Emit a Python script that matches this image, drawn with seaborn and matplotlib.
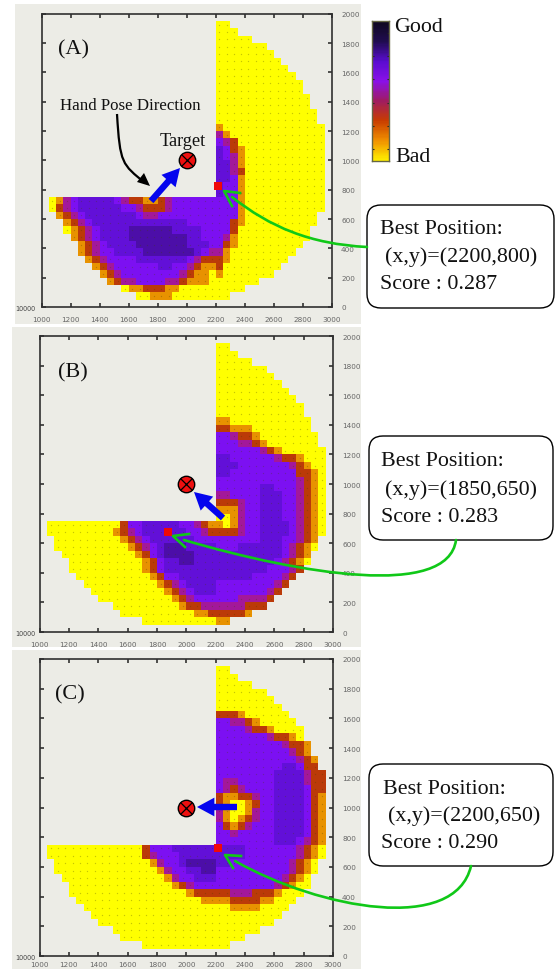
import numpy as np
import pandas as pd
import matplotlib
matplotlib.use("Agg")
import matplotlib.pyplot as plt
import seaborn as sns
from matplotlib.colors import ListedColormap, LinearSegmentedColormap
from matplotlib.patches import FancyBboxPatch, FancyArrowPatch, PathPatch, Rectangle, Polygon
from matplotlib.path import Path

W, H = 556, 970
SERIF = "Liberation Serif"

# score levels, 0 = bad (yellow) ... 6 = good (dark), . = no data
# one string per 50 unit row, top row first, columns start at x=1000 (short rows sit on the right)
RIM_ROWS = [
    "",
    "00.. .... .... ....",
    "000. .... .... ....",
    "0000 0... .... ....",
    "0000 000. .... ....",
    "0000 0000 .... ....",
    "0000 0000 0... ....",
]
PANEL_A = [
    "0000 0000 00.. ....",
    "0000 0000 000. ....",
    "0000 0000 0000 ....",
    "0000 0000 0000 ....",
    "0000 0000 0000 0...",
    "0000 0000 0000 0...",
    "0000 0000 0000 00..",
    "0000 0000 0000 00..",
    "1000 0000 0000 000.",
    "3100 0000 0000 000.",
    "4320 0000 0000 000.",
    "5421 0000 0000 000.",
    "5431 0000 0000 000.",
    "5531 0000 0000 000.",
    "5532 0000 0000 000.",
    "5541 0000 0000 000.",
    "5441 0000 0000 000.",
    "5441 0000 0000 000.",
    ".01345 555543 221123 444444 4441 0000 0000 000.",
    ".02345 555554 432223 444444 4441 0000 0000 000.",
    "..1234 555555 543344 444444 4441 0000 0000 00..",
    "...123 455555 555555 554444 4421 0000 0000 00..",
    "...012 345555 666666 555544 4420 0000 0000 0...",
    "....12 345555 666666 665544 4310 0000 0000 0...",
    ".....1 234555 566666 665554 4210 0000 0000 ....",
    ".....1 234455 556666 666543 3100 0000 000. ....",
    "...... 123444 455555 554322 2100 0000 00.. ....",
    "...... .12344 444455 443211 2000 0000 0... ....",
    "...... ..1234 444444 432110 1000 0000 .... ....",
    "...... ...123 344443 321110 0000 00.. .... ....",
    "...... .....0 112221 100000 0000 .... .... ....",
    "...... ...... .00111 000000 00.. .... .... ....",
    "",
]
PANEL_B = [
    "0000 0000 00.. ....",
    "0000 0000 000. ....",
    "0000 0000 0000 ....",
    "0000 0000 0000 ....",
    "1100 0000 0000 0...",
    "2211 1000 0000 0...",
    "4432 2100 0000 00..",
    "4443 3210 0000 00..",
    "4444 4432 1000 000.",
    "5544 4444 3221 000.",
    "5554 4444 4432 100.",
    "5544 4444 4442 210.",
    "4444 4444 4443 210.",
    "4444 4455 4443 210.",
    "3344 4455 5443 210.",
    "2223 4455 5443 210.",
    "1113 4455 5443 210.",
    "0013 4455 5443 210.",
    ".00000 000002 445555 544321 1013 4455 5543 210.",
    ".00000 000012 345555 554432 2223 4455 5543 210.",
    "..0000 000001 234555 555444 4444 4455 5443 21..",
    "..0000 000000 123456 665555 4445 5555 5432 10..",
    "...000 000000 012456 666555 5555 5555 5432 1...",
    "....00 000000 001245 566555 5555 5555 4321 0...",
    "....00 000000 001245 555555 5555 5554 4432 ....",
    ".....0 000000 000124 455555 5555 5444 432. ....",
    "...... 000000 000012 345555 4444 4444 32.. ....",
    "...... .00000 000001 234555 4444 4443 2... ....",
    "...... ..0000 000000 123444 4443 3332 .... ....",
    "...... ....00 000000 012233 3333 222. .... ....",
    "...... .....0 000000 000112 2222 1... .... ....",
    "...... ...... ..0000 000000 11.. .... .... ....",
    "",
]
PANEL_C = [
    "2221 0000 00.. ....",
    "4433 2100 000. ....",
    "4444 3221 0000 ....",
    "4444 4443 2210 ....",
    "4444 4444 4322 1...",
    "4444 4444 4432 1...",
    "4444 4444 4443 21..",
    "4444 4444 4554 22..",
    "4444 4444 5555 322.",
    "4334 4444 5555 322.",
    "4323 4444 5555 422.",
    "2112 2344 5555 421.",
    "2100 1244 5555 421.",
    "3100 1344 5555 421.",
    "3101 2344 5555 421.",
    "4212 3444 5555 421.",
    "4434 4444 5555 421.",
    "4444 4444 5554 321.",
    ".00000 000000 002444 555555 5555 4444 4443 210.",
    ".00000 000000 002344 455555 5555 4444 4443 210.",
    "..0000 000000 000134 456666 5544 4444 4432 10..",
    "..0000 000000 000013 445566 4444 4444 4432 10..",
    "...000 000000 000001 344555 4444 4444 4321 0...",
    "....00 000000 000000 123444 4444 4444 3210 0...",
    "....00 000000 000000 001222 2233 3222 1000 ....",
    ".....0 000000 000000 000011 1122 2211 000. ....",
    "...... 000000 000000 000000 0011 1100 00.. ....",
    "...... .00000 000000 000000 0000 0000 0... ....",
    "...... ..0000 000000 000000 0000 0000 .... ....",
    "...... ....00 000000 000000 0000 00.. .... ....",
    "...... .....0 000000 000000 0000 .... .... ....",
    "...... ...... ..0000 000000 00.. .... .... ....",
    "",
]
LEVEL_COLORS = ["#ffff00", "#e89200", "#bb3a08", "#a3189a", "#7c10f2", "#6210d8", "#4c0ea8"]
BAR_COLORS = ["#ffee00", "#f09000", "#c83c00", "#a01c60", "#8a10e8", "#5a0cd0", "#200c50", "#100820"]

PANEL_NAMES = ["(A)", "(B)", "(C)"]
TICK_X = [1000, 1200, 1400, 1600, 1800, 2000, 2200, 2400, 2600, 2800, 3000]
TICK_Y = [0, 200, 400, 600, 800, 1000, 1200, 1400, 1600, 1800, 2000]
TARGET_X = [2000, 2000, 2000]
TARGET_Y = [1000, 1000, 1000]
BEST_X = [2216, 1875, 2213]
BEST_Y = [822, 675, 725]
BOX_LINES = [
    ["Best Position:", " (x,y)=(2200,800)", "Score : 0.287"],
    ["Best Position:", " (x,y)=(1850,650)", "Score : 0.283"],
    ["Best Position:", " (x,y)=(2200,650)", "Score : 0.290"],
]


def to_frame(rows):
    table = []
    for row in RIM_ROWS + rows:
        row = row.replace(" ", "").rjust(40, ".")
        table.append([np.nan if c == "." else int(c) for c in row])
    # index is the lower edge of each row, 0 at the bottom after the flip
    df = pd.DataFrame(table[::-1], index=range(0, 2000, 50), columns=range(1000, 3000, 50))
    return df


def px_axes(fig, left, top, right, bottom):
    return fig.add_axes([left / W, 1 - bottom / H, (right - left) / W, (bottom - top) / H])


fig = plt.figure(figsize=(W / 100, H / 100), dpi=100, facecolor="white")

# grey window backgrounds and everything in picture pixels go on full size axes
back = fig.add_axes([0, 0, 1, 1], zorder=0)
back.set_xlim(0, W)
back.set_ylim(H, 0)
back.axis("off")
for x0, y0, x1, y1 in [(15, 5, 361, 325), (12, 328, 361, 648), (12, 651, 361, 970)]:
    back.add_patch(Rectangle((x0, y0), x1 - x0, y1 - y0, color="#ecece6", lw=0))

level_cmap = ListedColormap(LEVEL_COLORS)
frames = [to_frame(PANEL_A), to_frame(PANEL_B), to_frame(PANEL_C)]
boxes = [(41.5, 14.7, 332, 308), (39.5, 337, 333, 633), (39.5, 660, 333, 957)]
x_pads = [6.5, 6.5, 3.6]

for i, df in enumerate(frames):
    ax = px_axes(fig, *boxes[i])
    ax.set_zorder(1)
    ax.set_facecolor("#ecece6")
    sns.heatmap(df, ax=ax, cmap=level_cmap, vmin=-0.5, vmax=6.5, cbar=False,
                xticklabels=False, yticklabels=False)
    ax.invert_yaxis()

    # the small grid dots of the original plot
    yy, xx = np.nonzero(df.notna().values)
    ax.scatter(xx + 0.5, yy + 0.5, s=0.9, color="#444400", alpha=0.3, linewidths=0)

    ax.set_xticks([(v - 1000) / 50 for v in TICK_X])
    ax.set_xticklabels(TICK_X)
    ax.set_yticks([v / 50 for v in TICK_Y])
    ax.set_yticklabels(TICK_Y)
    ax.tick_params(direction="in", top=True, right=True, left=True, bottom=True,
                   labelleft=False, labelright=True, length=3, width=1.1, color="#222222",
                   labelsize=5.2, labelcolor="#666666", rotation=0)
    ax.tick_params(axis="x", pad=x_pads[i])
    ax.tick_params(axis="y", pad=6.5)
    for s in ax.spines.values():
        s.set_visible(True)
        s.set_linewidth(1.2)
        s.set_color("#303030")
    ax.set_xlabel("")
    ax.set_ylabel("")

    # target and best position
    tx = (TARGET_X[i] - 1000) / 50
    ty = TARGET_Y[i] / 50
    ax.scatter([tx], [ty], s=140, color="#ee1010", edgecolors="black", linewidths=1.0, zorder=5, clip_on=False)
    ax.scatter([tx], [ty], s=75, marker="x", color="black", linewidths=0.9, zorder=6)
    ax.scatter([(BEST_X[i] - 1000) / 50], [BEST_Y[i] / 50], s=38, marker="s", color="#f00808",
               linewidths=0, zorder=5)

# colour bar
bar = px_axes(fig, 372, 22, 389, 162)
bar.set_zorder(1)
bar_cmap = LinearSegmentedColormap.from_list("goodbad", BAR_COLORS)
gradient = pd.DataFrame(np.linspace(1, 0, 120)[:, None])
sns.heatmap(gradient, ax=bar, cmap=bar_cmap, cbar=False, xticklabels=False, yticklabels=False)
bar.set_yticks(np.arange(10, 120, 20))
bar.set_xticks([])
bar.tick_params(direction="in", left=True, right=True, length=1.5, width=0.8, color="#222222")
for s in bar.spines.values():
    s.set_visible(True)
    s.set_linewidth(1.0)
    s.set_color("#666644")

# annotations on top, in picture pixels
top = fig.add_axes([0, 0, 1, 1], zorder=2)
top.set_xlim(0, W)
top.set_ylim(H, 0)
top.axis("off")
top.patch.set_alpha(0)

serif = dict(family=SERIF, color="#111111", va="center", ha="left")
top.text(394, 28, "Good", fontsize=15.8, **serif)
top.text(395, 158, "Bad", fontsize=15.8, **serif)
top.text(58, 50, PANEL_NAMES[0], fontsize=16, **serif)
top.text(58, 373, PANEL_NAMES[1], fontsize=16, **serif)
top.text(55, 695, PANEL_NAMES[2], fontsize=16, **serif)
top.text(60, 106, "Hand Pose Direction", fontsize=12.2, **serif)
top.text(160, 142, "Target", fontsize=13.2, **serif)

# the smeared corner label where the two axes print over each other
for y0 in [309, 634, 958]:
    top.text(15, y0, "10000", fontsize=4.7, color="#444444", va="center", ha="left")

# callout boxes
callouts = [(367, 206, 554, 309, [380, 385, 380], [230, 257, 285]),
            (369, 437, 553, 541, [381, 385, 381], [462, 490, 518]),
            (369, 765, 553, 867, [383, 388, 381], [790, 816, 844])]
for i, (x0, y0, x1, y1, tx, ty) in enumerate(callouts):
    top.add_patch(FancyBboxPatch((x0 + 14, y0 + 14), x1 - x0 - 28, y1 - y0 - 28,
                                 boxstyle="round,pad=14,rounding_size=14",
                                 fc="white", ec="black", lw=1.0))
    for k in range(3):
        top.text(tx[k], ty[k], BOX_LINES[i][k].strip(), fontsize=15.8, **serif)

# green leader lines with open heads
green = "#10c818"
curves = [
    [(367, 248), (310, 245), (270, 228), (232, 198)],
    [(456, 541), (448, 600), (300, 575), (184, 541)],
    [(471, 867), (455, 935), (320, 910), (235, 862)],
]
heads = [
    [(240, 194), (224, 192), (232, 207)],
    [(189, 535), (173, 537), (185, 548)],
    [(241, 857), (225, 856), (233, 869)],
]
for c, h in zip(curves, heads):
    top.add_patch(PathPatch(Path(c, [Path.MOVETO, Path.CURVE4, Path.CURVE4, Path.CURVE4]),
                            fc="none", ec=green, lw=1.9, capstyle="round"))
    top.plot([p[0] for p in h], [p[1] for p in h], color=green, lw=1.9)

# black hand pose arrow
top.add_patch(PathPatch(Path([(117, 115), (120, 165), (122, 165), (145, 184)],
                             [Path.MOVETO, Path.CURVE4, Path.CURVE4, Path.CURVE4]),
                        fc="none", ec="black", lw=1.6))
top.add_patch(Polygon([(150, 187), (137, 183), (144, 174)], closed=True, color="black", lw=0))

# blue pose arrows
for tail, tip in [((151, 202), (180, 169)), ((223, 519), (194, 493)), ((237, 808), (197, 808))]:
    top.add_patch(FancyArrowPatch(tail, tip, arrowstyle="simple,head_length=1.25,head_width=1.35,tail_width=0.46",
                                  mutation_scale=10, color="#0505ee", lw=0, shrinkA=0, shrinkB=0))

fig.savefig("out.png", dpi=100)
